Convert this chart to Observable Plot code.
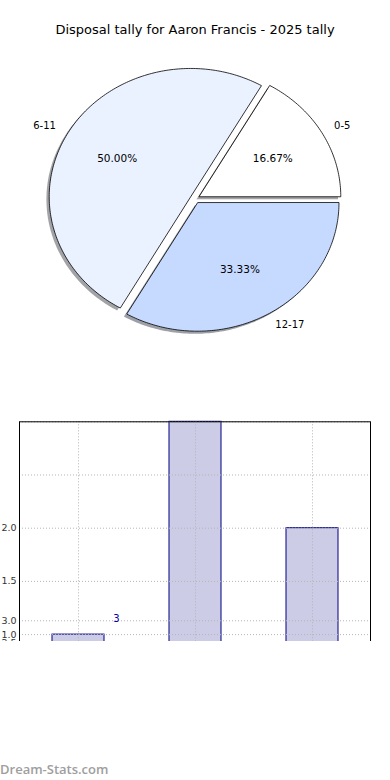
<!DOCTYPE html>
<html><head><meta charset="utf-8">
<script src="https://cdn.jsdelivr.net/npm/d3@7"></script>
<script src="https://cdn.jsdelivr.net/npm/@observablehq/plot@0.6"></script>
<style>
body{margin:0;background:#fff;}
#root{position:relative;width:390px;height:780px;overflow:hidden;font-family:"DejaVu Sans",sans-serif;background:#fff;}
#pie{position:absolute;top:0;left:0;}
#title{position:absolute;top:22px;left:0;width:390px;text-align:center;font-size:13px;line-height:15px;color:#000;}
#bars{position:absolute;top:400px;left:0;width:390px;height:241px;overflow:hidden;}
#footer{position:absolute;left:0;top:760px;font-family:"Open Sans",sans-serif;font-weight:600;font-size:13px;color:#9e9e9e;}
</style>
</head><body>
<div id="root">
  <div id="pie"></div>
  <div id="title">Disposal tally for Aaron Francis - 2025 tally</div>
  <div id="bars"></div>
  <div id="footer">Dream-Stats.com</div>
</div>
<script>
// ---- data ----
const categories = ["0-5", "6-11", "12-17"];
const tally = [1, 3, 2];
const sliceColors = ["#ffffff", "#eaf1ff", "#c6d9ff"];
const barValues = [1, 3, 2];
const yTickValues = [0.926, 1.0, 1.13, 1.5, 2.0, 2.5, 3.0];
const yTickLabels = ["2.5", "1.0", "3.0", "1.5", "2.0", "", ""];
const annotationText = ["3"];
const annotationCategory = ["0-5"];
const annotationValue = [1.15];

// ---- pie ----
const explode = 0.035;
const total = d3.sum(tally);
let acc = 0;
const slices = categories.map((c, i) => {
  const a0 = acc / total * 2 * Math.PI;
  acc += tally[i];
  const a1 = acc / total * 2 * Math.PI;
  const mid = (a0 + a1) / 2;
  return {c, a0, a1, mid, ox: explode * Math.cos(mid), oy: explode * Math.sin(mid),
          pct: tally[i] / total * 100, color: sliceColors[i]};
});
function polygon(s) {
  const pts = [{x: s.ox, y: s.oy}];
  const n = Math.max(2, Math.ceil((s.a1 - s.a0) / (Math.PI / 180)));
  for (let k = 0; k <= n; k++) {
    const a = s.a0 + (s.a1 - s.a0) * k / n;
    pts.push({x: s.ox + Math.cos(a), y: s.oy + Math.sin(a)});
  }
  return pts;
}
function shade(col) {
  const c = d3.rgb(col);
  return d3.rgb(c.r * 0.3, c.g * 0.3, c.b * 0.3).formatHex();
}
const pieMarks = [];
for (const s of slices) {
  pieMarks.push(Plot.line(polygon(s), {x: "x", y: "y", curve: "linear-closed",
    fill: shade(s.color), fillOpacity: 0.5, stroke: "none", dx: -2.8, dy: 2.6}));
}
for (const s of slices) {
  pieMarks.push(Plot.line(polygon(s), {x: "x", y: "y", curve: "linear-closed",
    fill: s.color, stroke: "black", strokeWidth: 0.8}));
}
const lx = s => s.ox + 1.1 * Math.cos(s.mid);
const ly = s => s.oy + 1.1 * Math.sin(s.mid);
pieMarks.push(Plot.text(slices.filter(s => Math.cos(s.mid) > 0),
  {x: lx, y: ly, text: "c", textAnchor: "start", lineAnchor: "middle", fontSize: 10, fill: "black"}));
pieMarks.push(Plot.text(slices.filter(s => Math.cos(s.mid) <= 0),
  {x: lx, y: ly, text: "c", textAnchor: "end", lineAnchor: "middle", fontSize: 10, fill: "black"}));
pieMarks.push(Plot.text(slices,
  {x: s => s.ox + 0.6 * Math.cos(s.mid), y: s => s.oy + 0.6 * Math.sin(s.mid),
   text: s => d3.format(".2f")(s.pct) + "%", textAnchor: "middle", lineAnchor: "middle", fontSize: 10.5, fill: "black"}));

const pie = Plot.plot({
  width: 390, height: 390, margin: 0,
  x: {domain: [-1, 1], range: [53, 336], axis: null},
  y: {domain: [-1, 1], range: [326.8, 70.2], axis: null},
  style: {background: "transparent", fontFamily: "DejaVu Sans"},
  marks: pieMarks
});
document.getElementById("pie").appendChild(pie);

// ---- bars ----
const barData = categories.map((c, i) => ({c, v: barValues[i]}));
const tickData = yTickValues.map((v, i) => ({v, label: yTickLabels[i]}));
const annData = annotationText.map((t, i) => ({c: annotationCategory[i], v: annotationValue[i], t}));
const gridStyle = {stroke: "#b5b5b5", strokeOpacity: 1, strokeDasharray: "1,2", strokeWidth: 1};
const bars = Plot.plot({
  width: 390, height: 260,
  marginLeft: 19, marginRight: 20, marginTop: 21.3, marginBottom: 0,
  x: {type: "band", domain: categories, paddingInner: 0.556, paddingOuter: 0.278, align: 0.5, axis: null},
  y: {domain: [0, 3], range: [340.5, 21.3], axis: null},
  style: {background: "transparent", fontFamily: "DejaVu Sans", overflow: "visible"},
  marks: [
    Plot.barY(barData, {x: "c", y: "v", fill: "#ccccE6", stroke: "#000080", strokeWidth: 1}),
    Plot.gridY(yTickValues, gridStyle),
    Plot.gridX(categories, gridStyle),
    Plot.text(tickData, {y: "v", text: "label", frameAnchor: "left", textAnchor: "end", lineAnchor: "middle", dx: -3, fontSize: 9.5, fill: "#333"}),
    Plot.text(annData, {x: "c", y: "v", text: "t", dx: 38, fontSize: 10, fill: "#0000a8", lineAnchor: "middle"}),
    Plot.frame({stroke: "black", strokeWidth: 1})
  ]
});
document.getElementById("bars").appendChild(bars);
</script>
</body></html>
